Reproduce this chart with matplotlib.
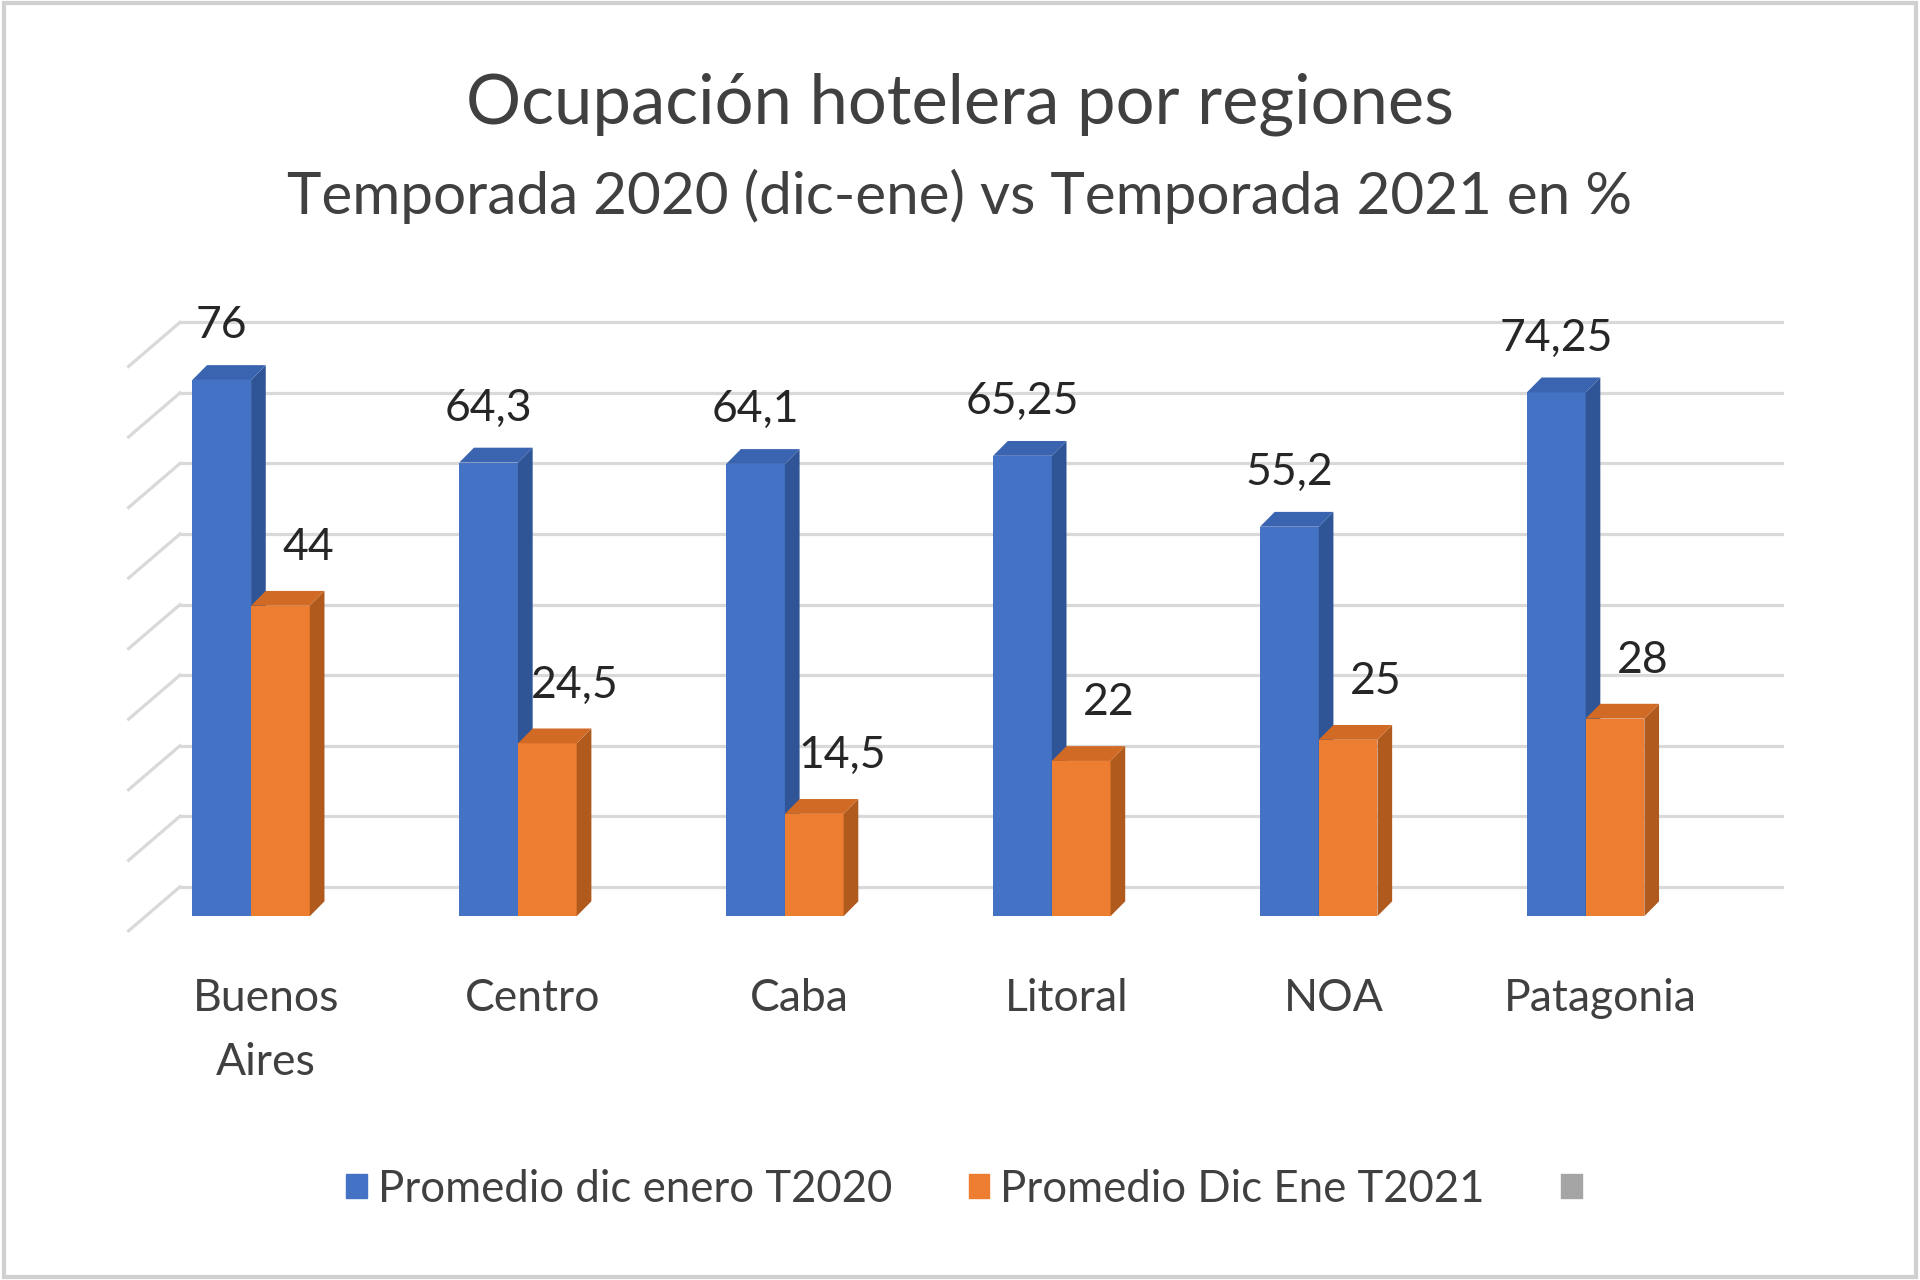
import matplotlib.pyplot as plt
from matplotlib.patches import Polygon, Patch, Rectangle
import numpy as np

plt.rcParams['font.family'] = ['Lato', 'DejaVu Sans']

regiones = ['Buenos\nAires', 'Centro', 'Caba', 'Litoral', 'NOA', 'Patagonia']
t2020 = [76, 64.3, 64.1, 65.25, 55.2, 74.25]
t2021 = [44, 24.5, 14.5, 22, 25, 28]
etiquetas_2020 = ['76', '64,3', '64,1', '65,25', '55,2', '74,25']
etiquetas_2021 = ['44', '24,5', '14,5', '22', '25', '28']
serie_2020 = 'Promedio dic enero T2020'
serie_2021 = 'Promedio Dic Ene T2021'

azul, azul_lado, azul_tope = '#4472C4', '#2F5597', '#3A63B0'
naranja, naranja_lado, naranja_tope = '#ED7D31', '#B05A1E', '#D06A25'
gris = '#A5A5A5'

# pseudo 3D settings (data units)
ancho = 0.22
prof_x, prof_y = 0.055, 2.1
pared = 4.17            # back wall is above the front base
suelo_x, suelo_y = 0.193, 6.25

fig = plt.figure(figsize=(19.2, 12.8), dpi=100)
ax = fig.add_axes([0.0638, 0.2584, 0.8673, 0.5120])
ax.set_xlim(-0.4817, 5.757)
ax.set_ylim(-4.69, 88.2)
ax.axis('off')

# back wall gridlines with the slanted floor part
for nivel in np.arange(0, 90, 10) + pared:
    ax.plot([-0.266, 5.734], [nivel, nivel], color='#D9D9D9', lw=2.3, zorder=1)
    ax.plot([-0.266 - suelo_x, -0.266], [nivel - suelo_y, nivel],
            color='#D9D9D9', lw=2.3, zorder=1)

x = np.arange(len(regiones))


def barras_3d(xs, vals, frente, lado, tope):
    bars = ax.bar(xs, vals, ancho, color=frente, zorder=3, linewidth=0)
    for b in bars:
        l, r, v = b.get_x(), b.get_x() + b.get_width(), b.get_height()
        ax.add_patch(Polygon([(r, 0), (r + prof_x, prof_y), (r + prof_x, v + prof_y), (r, v)],
                             closed=True, color=lado, zorder=3, lw=0))
        ax.add_patch(Polygon([(l, v), (r, v), (r + prof_x, v + prof_y), (l + prof_x, v + prof_y)],
                             closed=True, color=tope, zorder=3, lw=0))
    return bars


barras_3d(x - ancho / 2, t2020, azul, azul_lado, azul_tope)
barras_3d(x + ancho / 2, t2021, naranja, naranja_lado, naranja_tope)

for xi, v, t in zip(x - ancho / 2, t2020, etiquetas_2020):
    ax.annotate(t, (xi, v), xytext=(0, 39), textcoords='offset points',
                ha='center', va='center', fontsize=32, color='#262626', zorder=5)
for xi, v, t in zip(x + ancho / 2, t2021, etiquetas_2021):
    ax.annotate(t, (xi, v), xytext=(20, 42), textcoords='offset points',
                ha='center', va='center', fontsize=32, color='#262626', zorder=5)

for xi, r in zip(x + prof_x, regiones):
    ax.text(xi, -8.8, r, ha='center', va='top', fontsize=32, color='#404040',
            linespacing=1.7)

fig.text(0.5, 1 - 85 / 1045, 'Ocupación hotelera por regiones', ha='center', va='center',
         fontsize=49.5, color='#404040')
fig.text(0.5, 1 - 160 / 1045, 'Temporada 2020 (dic-ene) vs Temporada 2021 en %', ha='center',
         va='center', fontsize=42, color='#404040')

handles = [Patch(color=azul), Patch(color=naranja), Patch(color=gris)]
fig.legend(handles, [serie_2020, serie_2021, ''], loc='center', bbox_to_anchor=(0.505, 0.0708),
           ncol=3, frameon=False, fontsize=31.5, handlelength=0.47, handleheight=0.47,
           handletextpad=0.25, columnspacing=1.75, labelcolor='#404040')

fig.add_artist(Rectangle((0.002, 0.002), 0.996, 0.996, transform=fig.transFigure,
                         fill=False, edgecolor='#D0D0D0', lw=3))

fig.savefig('out.png', dpi=100)
